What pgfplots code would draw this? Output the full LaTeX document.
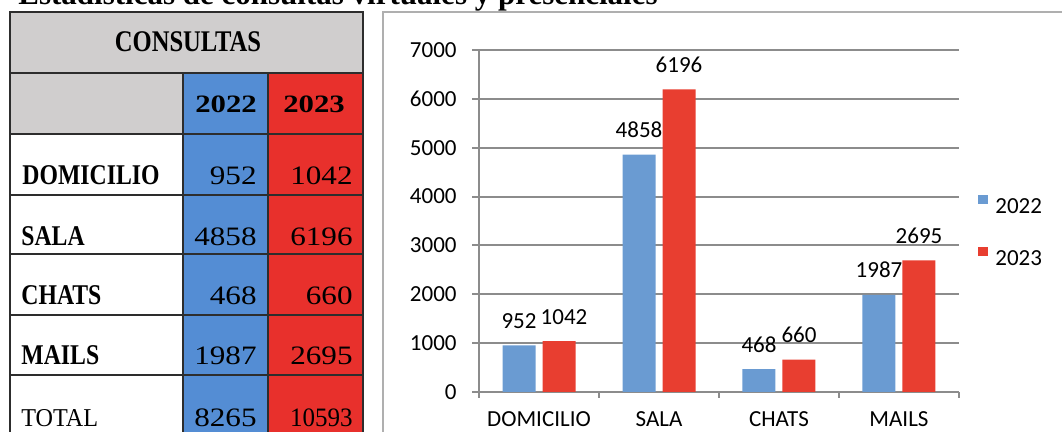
\documentclass[border=0pt]{standalone}
\usepackage{pgfplots}
\pgfplotsset{compat=1.18}
\usepackage{fontspec}
\usepackage{graphicx}
\setmainfont{Liberation Serif}
\newfontfamily\carlito{Carlito}
\definecolor{tblue}{RGB}{84,141,212}
\definecolor{tred}{RGB}{232,48,44}
\definecolor{hgray}{RGB}{208,206,206}
\definecolor{tline}{RGB}{45,45,45}
\definecolor{cblue}{RGB}{106,155,210}
\definecolor{cred}{RGB}{232,62,48}
\definecolor{cgrid}{RGB}{140,140,140}
\definecolor{cframe}{RGB}{175,175,175}
\newcommand\lab[1]{\scalebox{0.83}[1]{\fontsize{14.3}{16}\selectfont\bfseries #1}}
\newcommand\num[1]{\scalebox{1.17}[1]{\fontsize{13.3}{16}\selectfont #1}}
\newcommand\yr[1]{\scalebox{1.23}[1]{\fontsize{12.5}{15}\selectfont\bfseries #1}}
\newcommand\cf{\carlito\fontsize{11.5}{13}\selectfont}
\begin{document}
\begin{tikzpicture}
\useasboundingbox (0,0) rectangle (531pt,216pt);
\clip (0,0) rectangle (531pt,216pt);
\begin{scope}[x=0.5pt,y=-0.5pt,yshift=216pt]
  % title (cut at top edge)
  \node[anchor=base west,inner sep=0pt] at (18,5) {\fontsize{15.5}{18}\selectfont\bfseries Estadísticas de consultas virtuales y presenciales};
  % table fills
  \fill[hgray] (10,12) rectangle (363,73);
  \fill[hgray] (10,73) rectangle (183,134);
  \fill[tblue] (183,73) rectangle (268,445);
  \fill[tred] (268,73) rectangle (363,445);
  % table lines
  \draw[tline,line width=1pt] (10,445) -- (10,12) -- (363,12) -- (363,445);
  \foreach \yy in {73,134,195,254,315,375} {\draw[tline,line width=1pt] (10,\yy) -- (363,\yy);}
  \draw[tline,line width=1pt] (183,73) -- (183,445);
  \draw[tline,line width=1pt] (268,73) -- (268,445);
  % header texts
  \node[anchor=base,inner sep=0pt] at (188,52) {\scalebox{0.82}[1]{\fontsize{15}{18}\selectfont\bfseries CONSULTAS}};
  \node[anchor=base,inner sep=0pt] at (226,113) {\yr{2022}};
  \node[anchor=base,inner sep=0pt] at (314,113) {\yr{2023}};
  % row labels
  \node[anchor=base west,inner sep=0pt] at (22,185) {\lab{DOMICILIO}};
  \node[anchor=base west,inner sep=0pt] at (21,246) {\lab{SALA}};
  \node[anchor=base west,inner sep=0pt] at (21,305) {\lab{CHATS}};
  \node[anchor=base west,inner sep=0pt] at (21,365) {\lab{MAILS}};
  \node[anchor=base west,inner sep=0pt] at (21,427) {\scalebox{0.94}[1]{\fontsize{12.85}{15}\selectfont TOTAL}};
  % numbers
  \node[anchor=base east,inner sep=0pt] at (257,185) {\num{952}};
  \node[anchor=base east,inner sep=0pt] at (353,185) {\num{1042}};
  \node[anchor=base east,inner sep=0pt] at (257,246) {\num{4858}};
  \node[anchor=base east,inner sep=0pt] at (353,246) {\num{6196}};
  \node[anchor=base east,inner sep=0pt] at (257,305) {\num{468}};
  \node[anchor=base east,inner sep=0pt] at (353,305) {\num{660}};
  \node[anchor=base east,inner sep=0pt] at (257,365) {\num{1987}};
  \node[anchor=base east,inner sep=0pt] at (353,365) {\num{2695}};
  \node[anchor=base east,inner sep=0pt] at (257,427) {\num{8265}};
  \node[anchor=base east,inner sep=0pt] at (353,427) {\scalebox{0.94}[1]{\fontsize{13.3}{16}\selectfont 10593}};
  % chart frame
  \draw[cframe,line width=1pt] (383,450) -- (383,12) -- (1070,12);
\end{scope}
\begin{axis}[
  at={(239.5pt,20pt)}, anchor=south west,
  width=240pt, height=171pt, scale only axis,
  xmin=-0.5, xmax=3.5, ymin=0, ymax=7000,
  ybar=3.5pt, bar width=16.5pt,
  axis x line*=bottom, axis y line*=left,
  axis line style={cgrid,line width=1pt},
  ymajorgrids, grid style={cgrid,line width=1pt},
  ytick={0,1000,...,7000},
  xtick={0,1,2,3},
  xticklabels={DOMICILIO,SALA,CHATS,MAILS},
  minor xtick={-0.5,0.5,1.5,2.5,3.5},
  tick align=outside,
  major tick length=3.5pt, minor tick length=3pt,
  major x tick style={draw=none},
  tick style={cgrid,line width=1pt},
  /pgf/number format/1000 sep={},
  /pgf/number format/assume math mode=true,
  tick label style={font=\cf},
  xticklabel style={anchor=base, inner sep=0pt, yshift=-14pt},
  yticklabel style={anchor=east, inner sep=0pt, xshift=-7.5pt},
  nodes near coords,
  nodes near coords style={font=\cf, anchor=base, inner sep=0pt, yshift=8.5pt, black},
  legend style={at={(1.0396,0.578)}, anchor=north west, draw=none, fill=none,
    inner sep=0pt, row sep=15pt, font=\cf, nodes={inner sep=0pt},
    /tikz/every odd column/.append style={column sep=3.5pt}},
  legend cell align=left,
  legend image code/.code={\fill[#1] (0pt,0.2em) rectangle (5pt,0.65em);},
]
\addplot[fill=cblue, draw=none] coordinates {(0,952) (1,4858) (2,468) (3,1987)};
\addplot[fill=cred, draw=none, coordinate style/.condition={x==0}{xshift=2.5pt}] coordinates {(0,1042) (1,6196) (2,660) (3,2695)};
\legend{2022,2023}
\end{axis}
\end{tikzpicture}
\end{document}
